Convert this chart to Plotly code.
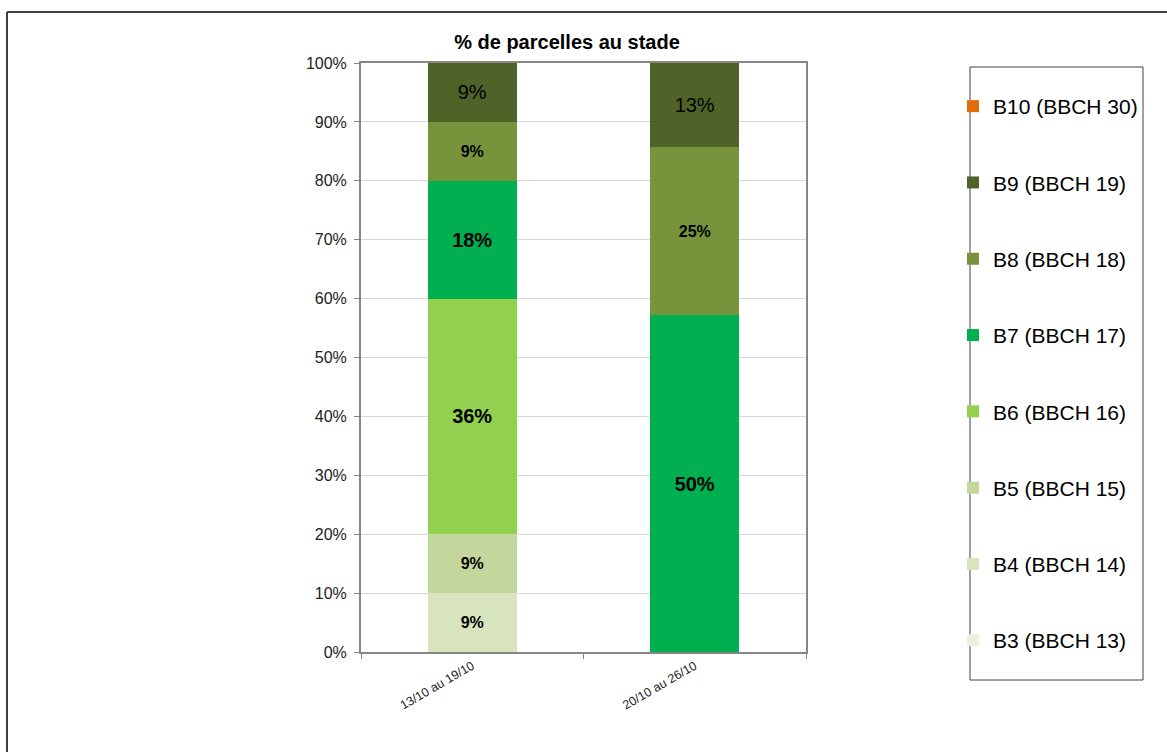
import plotly.graph_objects as go

periodes = ["13/10 au 19/10", "20/10 au 26/10"]

stades = ["B3 (BBCH 13)", "B4 (BBCH 14)", "B5 (BBCH 15)", "B6 (BBCH 16)",
          "B7 (BBCH 17)", "B8 (BBCH 18)", "B9 (BBCH 19)", "B10 (BBCH 30)"]

# nombre de parcelles par stade (hauteurs normalisées à 100 %)
b3 = [0, 0]
b4 = [1, 0]
b5 = [1, 0]
b6 = [4, 0]
b7 = [2, 4]
b8 = [1, 2]
b9 = [1, 1]
b10 = [0, 0]

# étiquettes affichées
lab_b3 = ["", ""]
lab_b4 = ["9%", ""]
lab_b5 = ["9%", ""]
lab_b6 = ["36%", ""]
lab_b7 = ["18%", "50%"]
lab_b8 = ["9%", "25%"]
lab_b9 = ["9%", "13%"]
lab_b10 = ["", ""]

couleurs = ["#EBF1DE", "#D7E4BD", "#C3D69B", "#92D050",
            "#00B050", "#77933C", "#4F6228", "#E36C09"]

series = [b3, b4, b5, b6, b7, b8, b9, b10]
labels = [lab_b3, lab_b4, lab_b5, lab_b6, lab_b7, lab_b8, lab_b9, lab_b10]
tailles = [16, 16, 16, 20, 20, 16, 20, 16]
gras = [True, True, True, True, True, True, False, True]

fig = go.Figure()
n = len(stades)
for i, (nom, vals, labs) in enumerate(zip(stades, series, labels)):
    txt = [f"<b>{t}</b>" if (gras[i] and t) else t for t in labs]
    fig.add_trace(go.Bar(
        x=periodes, y=vals, name=nom, text=txt,
        marker=dict(color=couleurs[i], line=dict(width=0)),
        textposition="inside", insidetextanchor="middle",
        constraintext="none",
        textfont=dict(family="Liberation Sans, Arial", size=tailles[i], color="#000000"),
        legendgroup=nom, legendrank=n - i,
        hoverinfo="skip",
    ))

L, R, T, B = 361, 806, 63, 652
W, H = 1167, 752
pw, ph = R - L, B - T

def px(x):
    return (x - L) / pw

def py(y):
    return (B - y) / ph

fig.update_layout(
    width=W, height=H,
    margin=dict(l=L, r=W - R, t=T, b=H - B, pad=0),
    barmode="stack", barnorm="percent", bargap=0.6,
    paper_bgcolor="white", plot_bgcolor="white",
    font=dict(family="Liberation Sans, Arial", color="#222222"),
    title=dict(text="<b>% de parcelles au stade</b>", x=567 / W, xanchor="center",
               y=1 - 42 / H, yanchor="middle",
               font=dict(size=20, color="#000000")),
    showlegend=True,
    legend=dict(traceorder="grouped", x=px(953), y=py(86), xanchor="left", yanchor="top",
                font=dict(size=21, color="#000000"), tracegroupgap=46,
                bgcolor="rgba(0,0,0,0)", borderwidth=0, itemwidth=30),
    xaxis=dict(showline=True, linecolor="#868686", linewidth=2, mirror=True,
               ticks="outside", tickson="boundaries", ticklen=5, tickcolor="#868686",
               tickangle=-30, tickfont=dict(size=12.5, color="#222222"), showgrid=False),
    yaxis=dict(range=[0, 100], dtick=10, ticksuffix="%", showline=True, linecolor="#868686",
               linewidth=2, mirror=True, ticks="outside", ticklen=5, tickcolor="#868686",
               gridcolor="#D9D9D9", gridwidth=1, tickfont=dict(size=16, color="#222222"),
               ticklabelstandoff=4, zeroline=False),
    shapes=[
        dict(type="rect", xref="paper", yref="paper", x0=px(970), x1=px(1143),
             y0=py(680), y1=py(67), line=dict(color="#404040", width=1)),
        dict(type="line", xref="paper", yref="paper", x0=px(7), x1=px(1170),
             y0=py(12), y1=py(12), line=dict(color="#404040", width=2)),
        dict(type="line", xref="paper", yref="paper", x0=px(7), x1=px(7),
             y0=py(12), y1=py(760), line=dict(color="#404040", width=2)),
    ],
)

fig.write_html("out.html")
